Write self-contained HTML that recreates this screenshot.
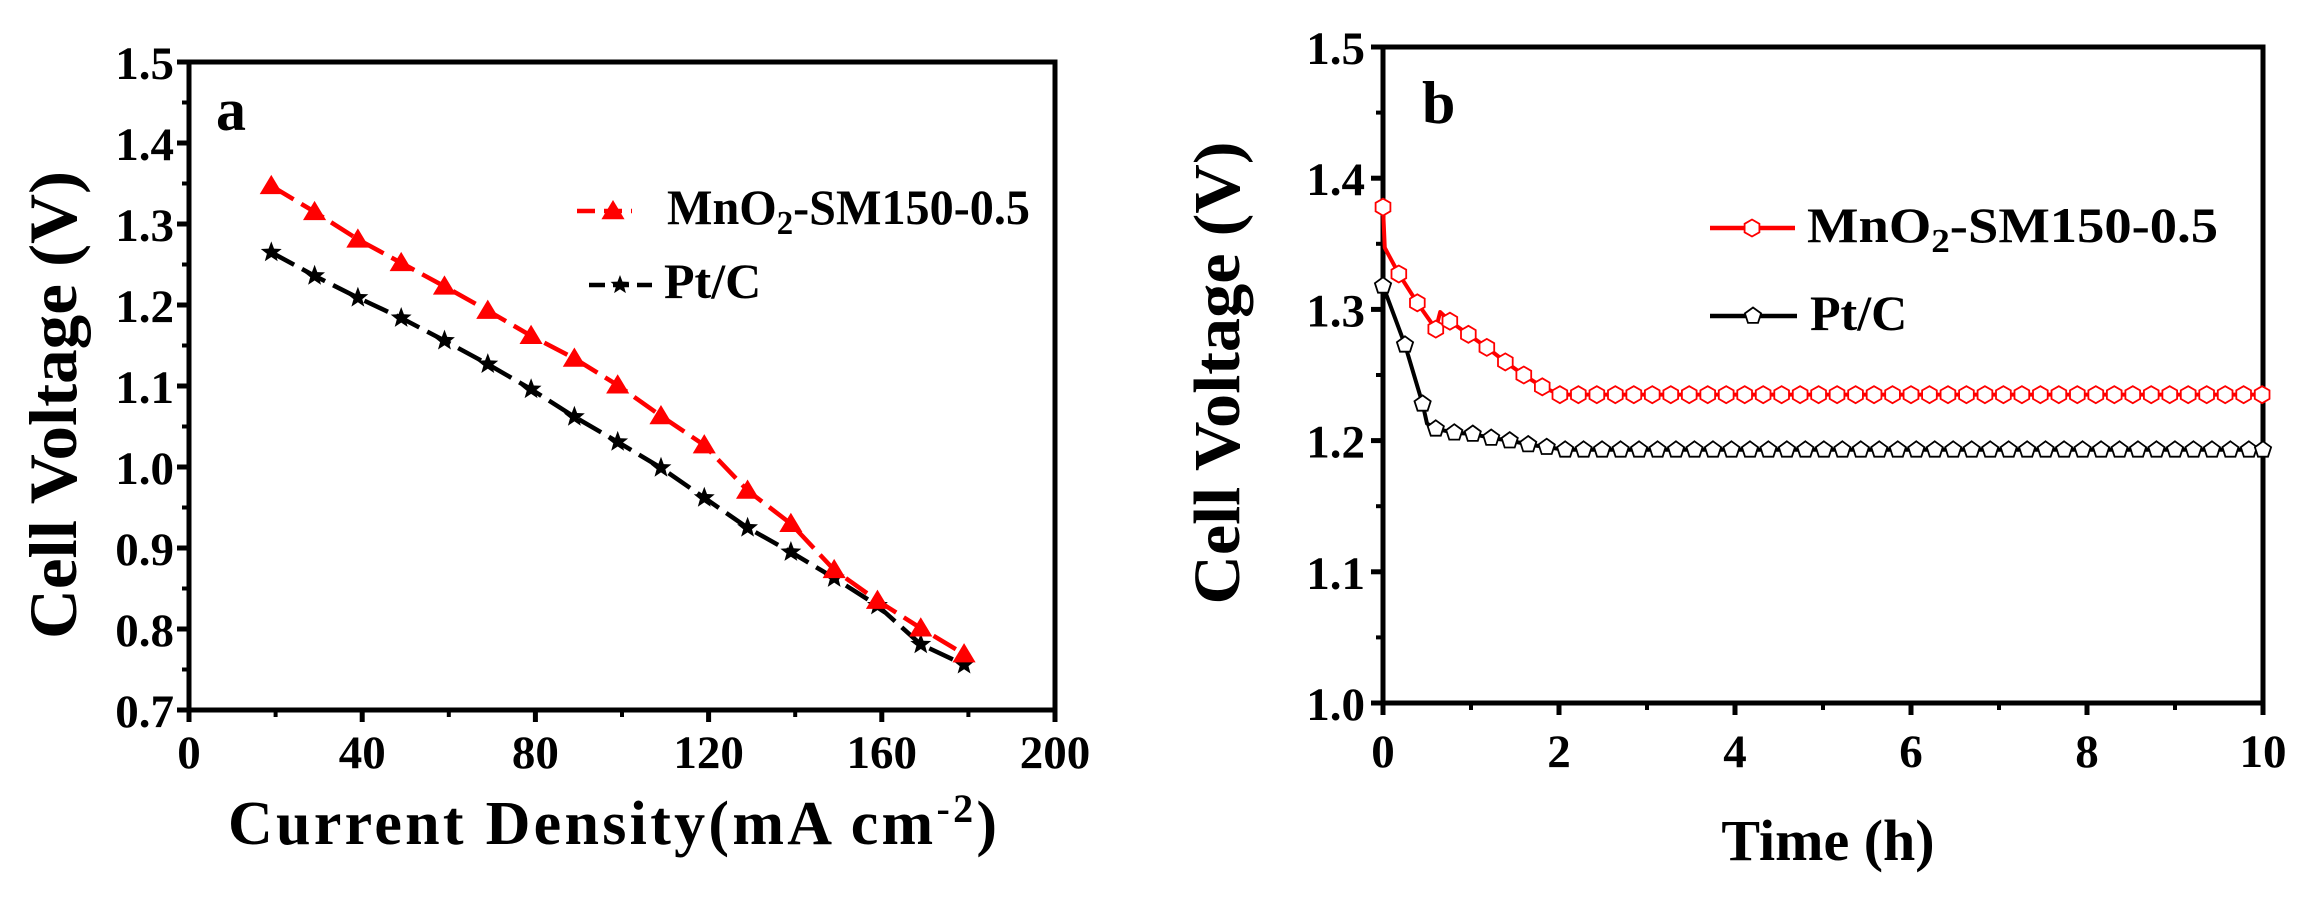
<!DOCTYPE html>
<html><head><meta charset="utf-8"><style>
html,body{margin:0;padding:0;background:#fff;}
svg{display:block;}
svg text{font-family:"Liberation Serif","DejaVu Serif","Times New Roman",serif;font-weight:bold;}
</style></head><body>
<svg id="fig" width="2313" height="903" viewBox="0 0 2313 903" xmlns="http://www.w3.org/2000/svg" font-family="Liberation Serif, DejaVu Serif, serif" font-weight="bold"></svg>
<script>
// ---- Chart a data ----
const aCurrent = [19,29,39,49,59,69,79,89,99,109,119,129,139,149,159,169,179];
const aMnO2 = [1.347,1.315,1.281,1.252,1.223,1.193,1.162,1.134,1.101,1.063,1.027,0.971,0.930,0.873,0.835,0.801,0.769];
const aPtC = [1.265,1.236,1.209,1.184,1.156,1.127,1.096,1.062,1.031,0.999,0.962,0.925,0.895,0.863,0.829,0.781,0.756];
const aXTicks = [0,40,80,120,160,200];
const aYTicks = [0.7,0.8,0.9,1.0,1.1,1.2,1.3,1.4,1.5];
// ---- Chart b data ----
const bTimeRed = [0,0.02,0.18,0.39,0.6,0.65,0.76,0.97,1.18,1.39,1.6,1.81,2.01,2.22,2.43,2.64,2.85,3.06,3.27,3.48,3.69,3.9,4.11,4.32,4.53,4.74,4.95,5.16,5.37,5.58,5.79,6.0,6.21,6.42,6.63,6.84,7.05,7.26,7.47,7.68,7.89,8.1,8.31,8.52,8.73,8.94,9.15,9.36,9.57,9.78,9.99];
const bMnO2 = [1.378,1.347,1.327,1.305,1.285,1.298,1.291,1.281,1.271,1.260,1.250,1.241,1.235,1.235,1.235,1.235,1.235,1.235,1.235,1.235,1.235,1.235,1.235,1.235,1.235,1.235,1.235,1.235,1.235,1.235,1.235,1.235,1.235,1.235,1.235,1.235,1.235,1.235,1.235,1.235,1.235,1.235,1.235,1.235,1.235,1.235,1.235,1.235,1.235,1.235,1.235];
const bMnO2Marked = [1,0,1,1,1,0,1,1,1,1,1,1,1,1,1,1,1,1,1,1,1,1,1,1,1,1,1,1,1,1,1,1,1,1,1,1,1,1,1,1,1,1,1,1,1,1,1,1,1,1,1];
const bTimeBlack = [0,0.25,0.45,0.5,0.6,0.81,1.02,1.23,1.44,1.65,1.86,2.07,2.28,2.49,2.7,2.91,3.12,3.33,3.54,3.75,3.96,4.17,4.38,4.59,4.8,5.01,5.22,5.43,5.64,5.85,6.06,6.27,6.48,6.69,6.9,7.11,7.32,7.53,7.74,7.95,8.16,8.37,8.58,8.79,9.0,9.21,9.42,9.63,9.84,10.0];
const bPtC = [1.318,1.273,1.228,1.213,1.209,1.206,1.205,1.202,1.200,1.197,1.195,1.193,1.193,1.193,1.193,1.193,1.193,1.193,1.193,1.193,1.193,1.193,1.193,1.193,1.193,1.193,1.193,1.193,1.193,1.193,1.193,1.193,1.193,1.193,1.193,1.193,1.193,1.193,1.193,1.193,1.193,1.193,1.193,1.193,1.193,1.193,1.193,1.193,1.193,1.193];
const bPtCMarked = [1,1,1,0,1,1,1,1,1,1,1,1,1,1,1,1,1,1,1,1,1,1,1,1,1,1,1,1,1,1,1,1,1,1,1,1,1,1,1,1,1,1,1,1,1,1,1,1,1,1];
const bXTicks = [0,2,4,6,8,10];
const bYTicks = [1.0,1.1,1.2,1.3,1.4,1.5];

const NS = "http://www.w3.org/2000/svg";
const svg = document.getElementById('fig');
function el(tag, attrs, parent){
  const e = document.createElementNS(NS, tag);
  for (const k in attrs) e.setAttribute(k, attrs[k]);
  (parent||svg).appendChild(e);
  return e;
}
const ax = c => 189 + (c - 0) * (1055 - 189) / 200;
const ay = v => 62 + (1.5 - v) * (710 - 62) / 0.8;
const bx = t => 1383 + t * (2263 - 1383) / 10;
const by = v => 47 + (1.5 - v) * (703 - 47) / 0.5;

function frame(x0, y0, x1, y1, name){
  const r = el('rect', {x:x0, y:y0, width:x1-x0, height:y1-y0, fill:'none', stroke:'#000', 'stroke-width':5});
  
  
}
function tickLabel(x, y, txt, anchor, name){
  const t = el('text', {x:x, y:y, 'text-anchor':anchor, 'font-size':47, fill:'#000'});
  t.textContent = txt;
  
  
}

// ===== Chart a =====
frame(189, 62, 1055, 710, 'chart-a-frame');
aXTicks.forEach(c => {
  el('line', {x1:ax(c), x2:ax(c), y1:710, y2:722, stroke:'#000', 'stroke-width':5});
  tickLabel(ax(c), 768, String(c), 'middle', 'x-tick-label-a');
});
for (let i = 0; i < aXTicks.length - 1; i++){
  const m = (aXTicks[i] + aXTicks[i+1]) / 2;
  el('line', {x1:ax(m), x2:ax(m), y1:710, y2:717, stroke:'#000', 'stroke-width':4});
}
aYTicks.forEach((v, i) => {
  el('line', {x1:177, x2:189, y1:ay(v), y2:ay(v), stroke:'#000', 'stroke-width':5});
  tickLabel(174, ay(v) + 17, v.toFixed(1), 'end', 'y-tick-label-a');
  if (i < aYTicks.length - 1){
    const m = (v + aYTicks[i+1]) / 2;
    el('line', {x1:182, x2:189, y1:ay(m), y2:ay(m), stroke:'#000', 'stroke-width':4});
  }
});
function polyline(xs, ys, fx, fy, color, dash, w, name){
  const pts = xs.map((x, i) => fx(x) + ',' + fy(ys[i])).join(' ');
  const p = el('polyline', {points:pts, fill:'none', stroke:color, 'stroke-width':w, 'stroke-dasharray':dash, 'stroke-linejoin':'round'});
  
  
}
function tri(cx, cy, r, color){
  return el('polygon', {points:`${cx},${cy-r} ${cx-r*1.05},${cy+r*0.75} ${cx+r*1.05},${cy+r*0.75}`, fill:color});
}
function star(cx, cy, R, color){
  const pts = [];
  for (let k = 0; k < 10; k++){
    const ang = -Math.PI/2 + k*Math.PI/5;
    const rr = k % 2 ? R*0.42 : R;
    pts.push((cx + rr*Math.cos(ang)).toFixed(1) + ',' + (cy + rr*Math.sin(ang)).toFixed(1));
  }
  return el('polygon', {points:pts.join(' '), fill:color});
}
function hexagon(cx, cy, r, color){
  const pts = [];
  for (let k = 0; k < 6; k++){
    const ang = -Math.PI/2 + k*Math.PI/3;
    pts.push((cx + r*Math.cos(ang)).toFixed(1) + ',' + (cy + r*Math.sin(ang)).toFixed(1));
  }
  return el('polygon', {points:pts.join(' '), fill:'#fff', stroke:color, 'stroke-width':1.8});
}
function pentagon(cx, cy, r, color){
  const pts = [];
  for (let k = 0; k < 5; k++){
    const ang = -Math.PI/2 + k*2*Math.PI/5;
    pts.push((cx + r*Math.cos(ang)).toFixed(1) + ',' + (cy + r*Math.sin(ang)).toFixed(1));
  }
  return el('polygon', {points:pts.join(' '), fill:'#fff', stroke:color, 'stroke-width':1.8});
}
polyline(aCurrent, aPtC, ax, ay, '#000', '26 9', 4.5, 'line-ptc-a');
polyline(aCurrent, aMnO2, ax, ay, '#f00', '26 9', 4.5, 'line-mno2-a');
aPtC.forEach((v, i) => {
  const s = star(ax(aCurrent[i]), ay(v), 11, '#000');
  
  
});
aMnO2.forEach((v, i) => {
  const t = tri(ax(aCurrent[i]), ay(v), 11, '#f00');
  
  
});
// legend a
el('line', {x1:577, x2:632, y1:211, y2:211, stroke:'#f00', 'stroke-width':4.5, 'stroke-dasharray':'18 9'});
tri(613, 211, 11, '#f00');
let lt = el('text', {x:667, y:224, 'font-size':50, fill:'#000', textLength:363, lengthAdjust:'spacingAndGlyphs'});
lt.innerHTML = 'MnO<tspan font-size="34" dy="10">2</tspan><tspan dy="-10">-SM150-0.5</tspan>';


el('line', {x1:589, x2:652, y1:285, y2:285, stroke:'#000', 'stroke-width':4.5, 'stroke-dasharray':'16 8'});
star(620, 285, 10, '#000');
lt = el('text', {x:664, y:298, 'font-size':50, fill:'#000'});
lt.textContent = 'Pt/C';


lt = el('text', {x:216, y:130, 'font-size':60, fill:'#000'});
lt.textContent = 'a';


lt = el('text', {x:228, y:844, 'font-size':62, fill:'#000', textLength:769, lengthAdjust:'spacing'});
lt.innerHTML = 'Current Density(mA cm<tspan font-size="40" dy="-22">-2</tspan><tspan dy="22">)</tspan>';


lt = el('text', {x:0, y:0, 'font-size':68, fill:'#000', 'text-anchor':'middle', transform:'translate(76,405) rotate(-90)', textLength:468, lengthAdjust:'spacingAndGlyphs'});
lt.textContent = 'Cell  Voltage (V)';



// ===== Chart b =====
frame(1383, 47, 2263, 703, 'chart-b-frame');
bXTicks.forEach((t, i) => {
  el('line', {x1:bx(t), x2:bx(t), y1:703, y2:715, stroke:'#000', 'stroke-width':5});
  tickLabel(bx(t), 767, String(t), 'middle', 'x-tick-label-b');
  if (i < bXTicks.length - 1){
    const m = (t + bXTicks[i+1]) / 2;
    el('line', {x1:bx(m), x2:bx(m), y1:703, y2:710, stroke:'#000', 'stroke-width':4});
  }
});
bYTicks.forEach((v, i) => {
  el('line', {x1:1371, x2:1383, y1:by(v), y2:by(v), stroke:'#000', 'stroke-width':5});
  tickLabel(1365, by(v) + 17, v.toFixed(1), 'end', 'y-tick-label-b');
  if (i < bYTicks.length - 1){
    const m = (v + bYTicks[i+1]) / 2;
    el('line', {x1:1376, x2:1383, y1:by(m), y2:by(m), stroke:'#000', 'stroke-width':4});
  }
});
polyline(bTimeBlack, bPtC, bx, by, '#000', 'none', 4, 'line-ptc-b');
polyline(bTimeRed, bMnO2, bx, by, '#f00', 'none', 4, 'line-mno2-b');
bPtC.forEach((v, i) => {
  if (!bPtCMarked[i]) return;
  const p = pentagon(bx(bTimeBlack[i]), by(v), 8.5, '#000');
  
  
});
bMnO2.forEach((v, i) => {
  if (!bMnO2Marked[i]) return;
  const h = hexagon(bx(bTimeRed[i]), by(v), 8.5, '#f00');
  
  
});
// legend b
el('line', {x1:1710, x2:1795, y1:228, y2:228, stroke:'#f00', 'stroke-width':4.5});
hexagon(1752, 228, 8.5, '#f00');
lt = el('text', {x:1807, y:242, 'font-size':50, fill:'#000', textLength:411, lengthAdjust:'spacingAndGlyphs'});
lt.innerHTML = 'MnO<tspan font-size="34" dy="10">2</tspan><tspan dy="-10">-SM150-0.5</tspan>';


el('line', {x1:1710, x2:1797, y1:316, y2:316, stroke:'#000', 'stroke-width':4.5});
pentagon(1753, 316, 8.5, '#000');
lt = el('text', {x:1810, y:330, 'font-size':50, fill:'#000'});
lt.textContent = 'Pt/C';


lt = el('text', {x:1422, y:123, 'font-size':60, fill:'#000'});
lt.textContent = 'b';


lt = el('text', {x:1828, y:860, 'font-size':58, fill:'#000', 'text-anchor':'middle'});
lt.textContent = 'Time (h)';


lt = el('text', {x:0, y:0, 'font-size':66, fill:'#000', 'text-anchor':'middle', transform:'translate(1239,373) rotate(-90)', textLength:463, lengthAdjust:'spacingAndGlyphs'});
lt.textContent = 'Cell  Voltage (V)';


</script>
</body></html>
